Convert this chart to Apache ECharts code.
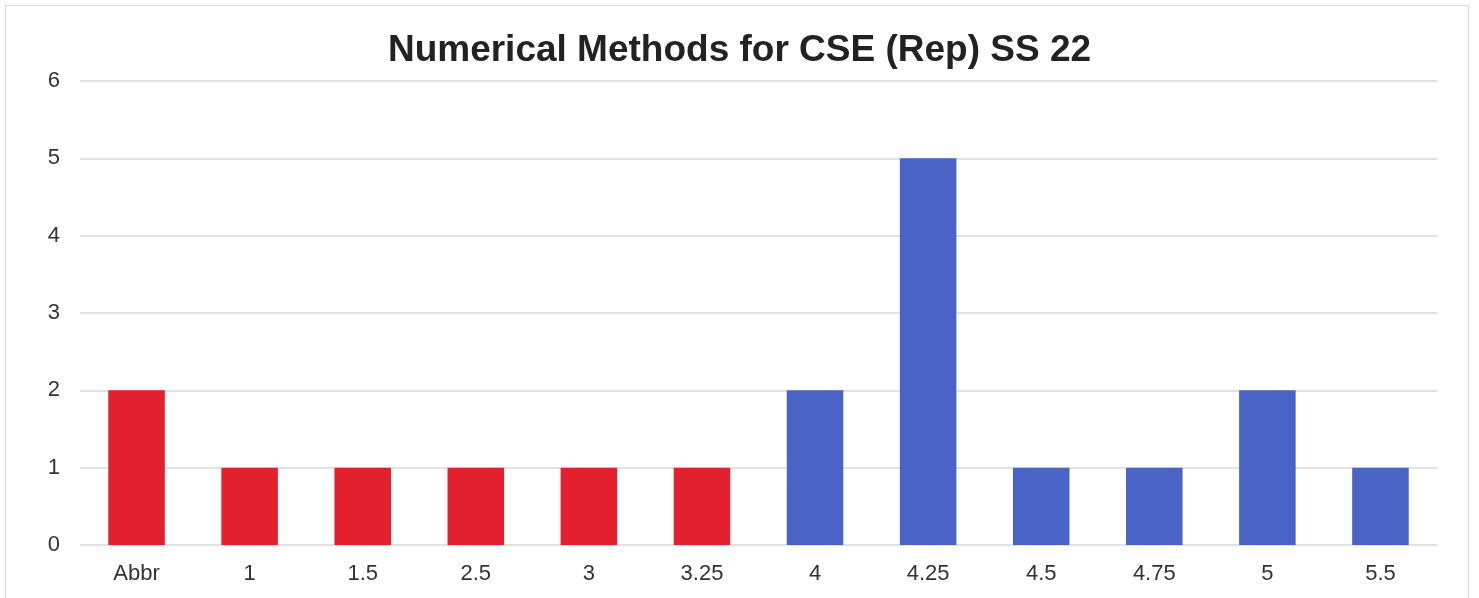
<!DOCTYPE html>
<html><head><meta charset="utf-8">
<script src="https://cdn.jsdelivr.net/npm/echarts@6/dist/echarts.min.js"></script>
<style>html,body{margin:0;padding:0;background:#fff;}#c{width:1479px;height:598px;}
#frame{position:absolute;left:5px;top:5px;width:1462px;height:600px;border:1px solid #d8d8d8;border-bottom:none;pointer-events:none;}</style>
</head><body><div id="c"></div><div id="frame"></div>
<script>
const categories = ['Abbr','1','1.5','2.5','3','3.25','4','4.25','4.5','4.75','5','5.5'];
const counts = [2,1,1,1,1,1,2,5,1,1,2,1];
const failing = [true,true,true,true,true,true,false,false,false,false,false,false];
const RED = '#E3202E', BLUE = '#4A63C6';
const chart = echarts.init(document.getElementById('c'));
chart.setOption({
  animation:false,
  title:{text:'Numerical Methods for CSE (Rep) SS 22', left:'center', top:27,
    textStyle:{fontFamily:'Liberation Sans', fontSize:37, fontWeight:'bold', color:'#222'}},
  grid:{left:80, right:42, top:81, bottom:53},
  xAxis:{type:'category', data:categories,
    axisLine:{show:false}, axisTick:{show:false},
    axisLabel:{fontFamily:'Liberation Sans', fontSize:22, color:'#333', margin:18}},
  yAxis:{type:'value', min:0, max:6, interval:1,
    axisLabel:{fontFamily:'Liberation Sans', fontSize:22, color:'#333', margin:20},
    splitLine:{lineStyle:{color:'#d9d9d9', width:1.5}}},
  series:[{type:'bar', barWidth:'50%',
    data: counts.map((v,i)=>({value:v, itemStyle:{color: failing[i]?RED:BLUE}}))}]
});
</script></body></html>
